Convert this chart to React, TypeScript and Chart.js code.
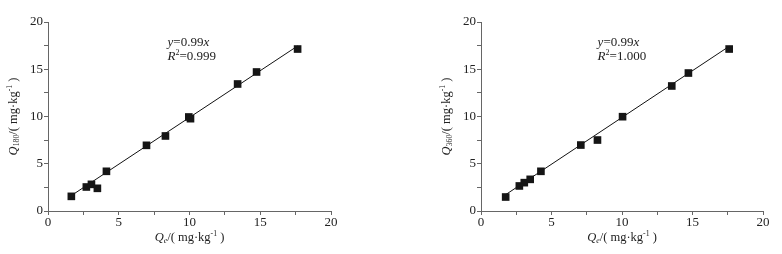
import React, { useEffect, useRef } from "react";
import { Chart, registerables } from "chart.js";

Chart.register(...registerables);

// ---- data ----
const leftQe = [1.65, 2.71, 3.07, 3.49, 4.13, 6.96, 8.3, 9.95, 10.07, 13.4, 14.74, 17.64];
const leftQ180 = [1.55, 2.54, 2.82, 2.4, 4.2, 6.95, 7.94, 9.95, 9.77, 13.44, 14.71, 17.14];
const rightQe = [1.75, 2.72, 3.07, 3.49, 4.25, 7.08, 8.26, 10.04, 13.53, 14.71, 17.6];
const rightQ360 = [1.48, 2.65, 3.0, 3.35, 4.2, 6.98, 7.51, 9.98, 13.23, 14.6, 17.14];
const leftFitSlope = 0.99;
const rightFitSlope = 0.99;
const leftFitRange = [1.65, 17.64];
const rightFitRange = [1.75, 17.6];
const leftR2 = "0.999";
const rightR2 = "1.000";
const axisTicks = [0, 2.5, 5, 7.5, 10, 12.5, 15, 17.5, 20];

const FONT = "'Liberation Serif', 'Times New Roman', serif";

type Run = { t: string; italic?: boolean; scale?: number; dy?: number };

function runFont(r: Run, size: number) {
  return `${r.italic ? "italic " : ""}${size * (r.scale ?? 1)}px ${FONT}`;
}

function drawRuns(
  ctx: CanvasRenderingContext2D,
  runs: Run[],
  x: number,
  y: number,
  size: number,
  align: "left" | "center",
  rotate: boolean
) {
  ctx.save();
  ctx.translate(x, y);
  if (rotate) ctx.rotate(-Math.PI / 2);
  ctx.textBaseline = "alphabetic";
  ctx.textAlign = "left";
  let total = 0;
  const widths = runs.map((r) => {
    ctx.font = runFont(r, size);
    const w = ctx.measureText(r.t).width;
    total += w;
    return w;
  });
  let cx = align === "center" ? -total / 2 : 0;
  runs.forEach((r, i) => {
    ctx.font = runFont(r, size);
    ctx.fillText(r.t, cx, r.dy ?? 0);
    cx += widths[i];
  });
  ctx.restore();
}

function makeChart(
  canvas: HTMLCanvasElement,
  xs: number[],
  ys: number[],
  slope: number,
  range: number[],
  r2: string,
  sub: string,
  yAxisWidth: number,
  rightPad: number,
  annX: number
) {
  const points = xs.map((x, i) => ({ x, y: ys[i] }));
  const fit = range.map((x) => ({ x, y: slope * x }));
  const textColor = "#222";

  const titles = {
    id: "richTitles",
    afterDraw(chart: any) {
      const ctx: CanvasRenderingContext2D = chart.ctx;
      const a = chart.chartArea;
      ctx.fillStyle = textColor;
      drawRuns(
        ctx,
        [
          { t: "Q", italic: true },
          { t: "e", italic: true, scale: 0.62, dy: 2 },
          { t: "/( mg·kg" },
          { t: "-1", scale: 0.62, dy: -5 },
          { t: " )" },
        ],
        (a.left + a.right) / 2,
        241,
        12.5,
        "center",
        false
      );
      drawRuns(
        ctx,
        [
          { t: "Q", italic: true },
          { t: sub, scale: 0.62, dy: 2 },
          { t: "/( mg·kg" },
          { t: "-1", scale: 0.62, dy: -5 },
          { t: " )" },
        ],
        a.left - 31,
        (a.top + a.bottom) / 2,
        12.5,
        "center",
        true
      );
      const ax = chart.scales.x.getPixelForValue(annX);
      const ay = chart.scales.y.getPixelForValue(17.5);
      drawRuns(
        ctx,
        [{ t: "y", italic: true }, { t: "=" + slope.toFixed(2) }, { t: "x", italic: true }],
        ax,
        ay,
        13,
        "left",
        false
      );
      drawRuns(
        ctx,
        [{ t: "R", italic: true }, { t: "2", scale: 0.62, dy: -5 }, { t: "=" + r2 }],
        ax,
        ay + 14.5,
        13,
        "left",
        false
      );
    },
  };

  const axisColor = "#666";
  const tickFont = { family: FONT, size: 13 };

  return new Chart(canvas, {
    type: "scatter",
    data: {
      datasets: [
        {
          data: points,
          pointStyle: "rect",
          pointRadius: 5.4,
          backgroundColor: "#151515",
          borderColor: "#151515",
          borderWidth: 0,
        },
        {
          type: "line",
          data: fit,
          borderColor: "#111",
          borderWidth: 1,
          pointRadius: 0,
          showLine: true,
          fill: false,
        } as any,
      ],
    },
    options: {
      animation: false,
      responsive: false,
      events: [],
      layout: { padding: { top: 22, right: rightPad, left: 0, bottom: 0 } },
      plugins: { legend: { display: false }, tooltip: { enabled: false } },
      scales: {
        x: {
          type: "linear",
          min: 0,
          max: 20,
          afterBuildTicks: (s: any) => {
            s.ticks = axisTicks.map((v) => ({ value: v }));
          },
          afterFit: (s: any) => {
            s.height = 43;
          },
          ticks: {
            autoSkip: false,
            maxRotation: 0,
            padding: 0,
            color: textColor,
            font: tickFont,
            callback: (v: any) => (Number(v) % 5 === 0 ? String(v) : ""),
          },
          grid: { drawOnChartArea: false, drawTicks: true, tickLength: 4, color: axisColor },
          border: { display: true, color: axisColor, width: 1 },
        },
        y: {
          type: "linear",
          min: 0,
          max: 20,
          afterBuildTicks: (s: any) => {
            s.ticks = axisTicks.map((v) => ({ value: v }));
          },
          afterFit: (s: any) => {
            s.width = yAxisWidth;
          },
          ticks: {
            autoSkip: false,
            padding: 1,
            color: textColor,
            font: tickFont,
            callback: (v: any) => (Number(v) % 5 === 0 ? String(v) : ""),
          },
          grid: { drawOnChartArea: false, drawTicks: true, tickLength: 4, color: axisColor },
          border: { display: true, color: axisColor, width: 1 },
        },
      },
    },
    plugins: [titles],
  } as any);
}

export default function App() {
  const leftRef = useRef<HTMLCanvasElement>(null);
  const rightRef = useRef<HTMLCanvasElement>(null);

  useEffect(() => {
    const charts: Chart[] = [];
    let cancelled = false;
    const build = () => {
      if (cancelled) return;
      charts.push(
        makeChart(leftRef.current!, leftQe, leftQ180, leftFitSlope, leftFitRange, leftR2, "180", 48, 60, 8.45)
      );
      charts.push(
        makeChart(rightRef.current!, rightQe, rightQ360, rightFitSlope, rightFitRange, rightR2, "360", 90, 19, 8.27)
      );
    };
    const fonts = (document as any).fonts;
    if (fonts && fonts.load) {
      Promise.all([
        fonts.load("13px 'Liberation Serif'"),
        fonts.load("italic 13px 'Liberation Serif'"),
      ]).then(build, build);
    } else {
      build();
    }
    return () => {
      cancelled = true;
      charts.forEach((c) => c.destroy());
    };
  }, []);

  return (
    <div
      style={{
        position: "fixed",
        left: 0,
        top: 0,
        width: 782,
        height: 254,
        background: "#fff",
        display: "flex",
      }}
    >
      <canvas ref={leftRef} width={391} height={254} style={{ width: 391, height: 254 }} />
      <canvas ref={rightRef} width={391} height={254} style={{ width: 391, height: 254 }} />
    </div>
  );
}
